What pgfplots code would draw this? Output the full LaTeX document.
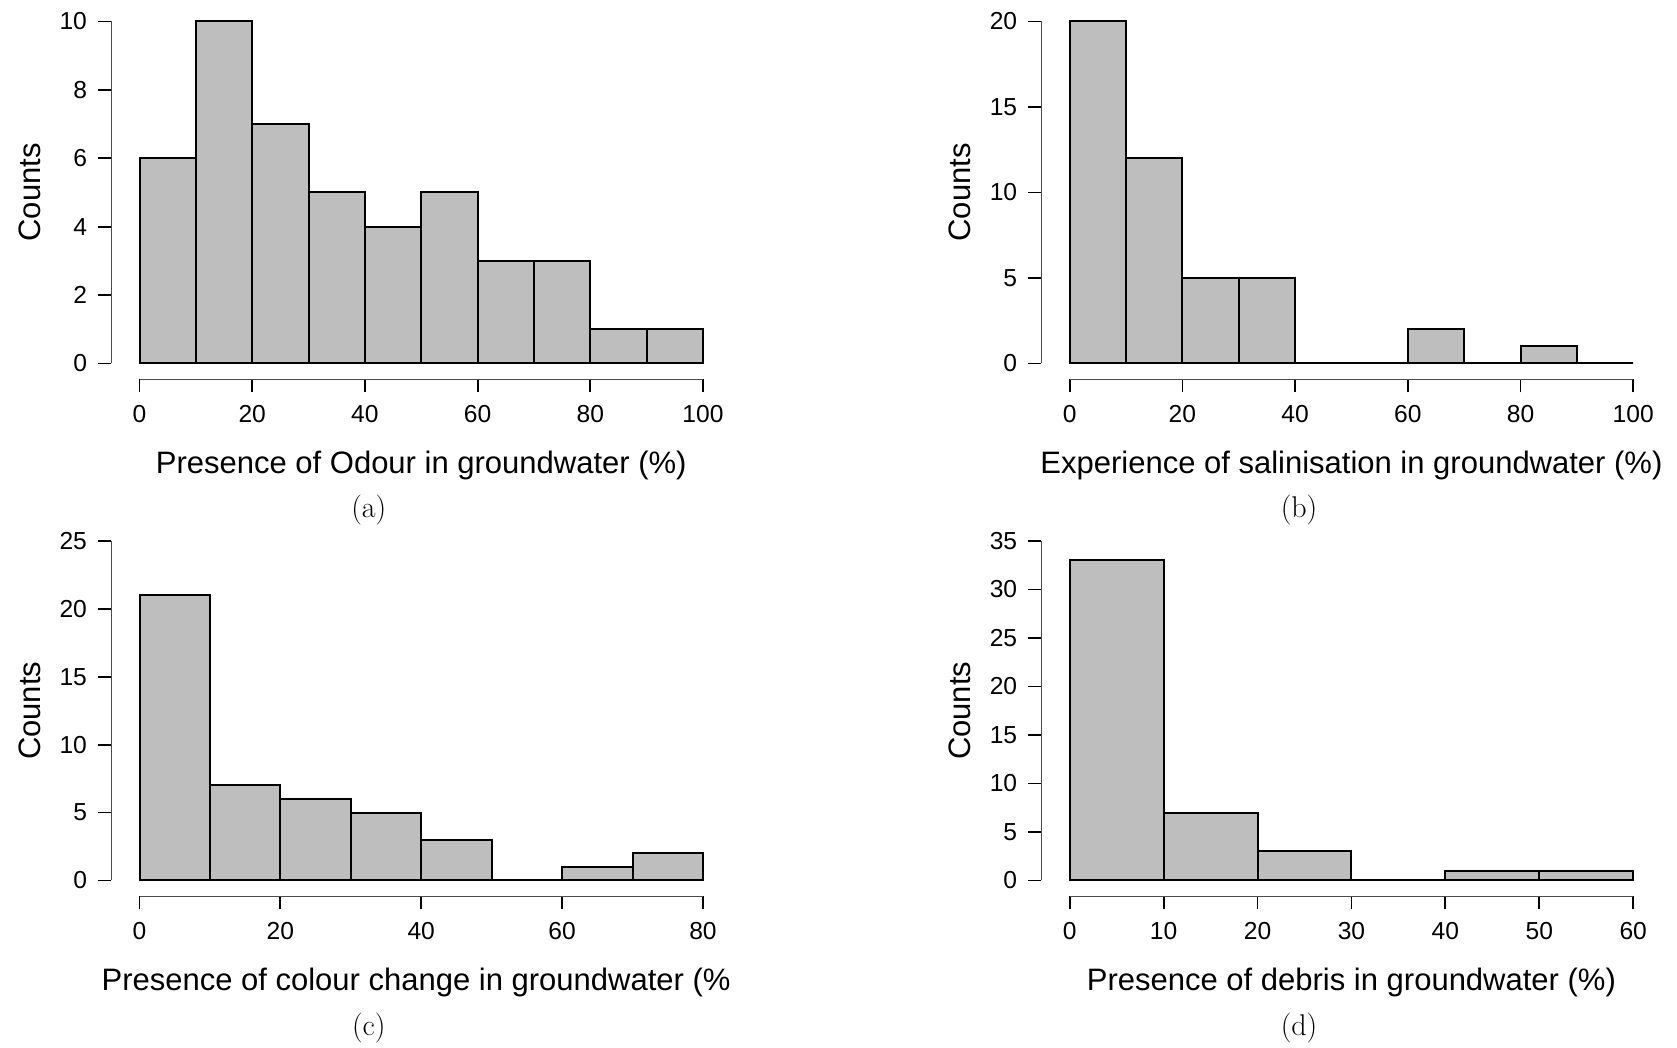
\documentclass[border=0pt]{standalone}
\usepackage{pgfplots}
\pgfplotsset{compat=1.18}
\usepackage{fontspec}
\newfontfamily\lsans{Liberation Sans}
\definecolor{bargray}{RGB}{190,190,190}
\tikzset{subcap/.style={font=\fontsize{15}{17}\selectfont}}
\pgfplotsset{
  rhist/.style={
    scale only axis,
    width=281.75pt,
    clip=false,
    axis x line*=bottom,
    axis y line*=left,
    axis x line shift=8pt,
    axis y line shift=14.25pt,
    axis line style={line width=0.5pt, black!70},
    tick align=outside,
    major tick length=6.5pt,
    tick style={line width=0.9pt, black},
    minor tick num=0,
    tick label style={font=\fontsize{12.3}{14}\selectfont\lsans},
    xticklabel style={yshift=-2.7pt},
    yticklabel style={xshift=-2pt},
    /pgf/number format/assume math mode=true,
    label style={font=\fontsize{15.5}{18}\selectfont\lsans},
    ylabel style={at={(axis description cs:-0.195,0.5)}, anchor=center},
    ylabel={Counts},
    ymin=0,
    xmin=0,
  },
  histbar/.style={ybar interval, fill=bargray, draw=black, line width=1pt},
}
\begin{document}
\begin{tikzpicture}
\useasboundingbox (0,0) rectangle (838.5pt,524pt);
% (a)
\begin{axis}[rhist, at={(69.75pt,342.25pt)}, anchor=south west, height=171pt,
  xmax=100, ymax=10, xtick={0,20,...,100}, ytick={0,2,...,10},
  xlabel={Presence of Odour in groundwater (\%)},
  xlabel style={at={(axis description cs:0.5,-0.297)}, anchor=center}]
\addplot[histbar] coordinates {(0,6) (10,10) (20,7) (30,5) (40,4) (50,5) (60,3) (70,3) (80,1) (90,1) (100,1)};
\node[subcap] at (axis description cs:0.407,-0.428) {(a)};
\end{axis}
% (b)
\begin{axis}[rhist, at={(534.85pt,342.25pt)}, anchor=south west, height=171pt,
  xmax=100, ymax=20, xtick={0,20,...,100}, ytick={0,5,...,20},
  xlabel={Experience of salinisation in groundwater (\%)},
  xlabel style={at={(axis description cs:0.5,-0.297)}, anchor=center}]
\addplot[histbar] coordinates {(0,20) (10,12) (20,5) (30,5) (40,0) (50,0) (60,2) (70,0) (80,1) (90,0) (100,0)};
\node[subcap] at (axis description cs:0.407,-0.428) {(b)};
\end{axis}
% (c)
\begin{axis}[rhist, at={(69.75pt,83.75pt)}, anchor=south west, height=169.75pt,
  xmax=80, ymax=25, xtick={0,20,...,80}, ytick={0,5,...,25},
  xlabel={Presence of colour change in groundwater (\%\phantom{)}},
  xlabel style={at={(axis description cs:0.5,-0.3)}, anchor=center}]
\addplot[histbar] coordinates {(0,21) (10,7) (20,6) (30,5) (40,3) (50,0) (60,1) (70,2) (80,2)};
\node[subcap] at (axis description cs:0.407,-0.434) {(c)};
\end{axis}
% (d)
\begin{axis}[rhist, at={(534.85pt,83.75pt)}, anchor=south west, height=169.75pt,
  xmax=60, ymax=35, xtick={0,10,...,60}, ytick={0,5,...,35},
  xlabel={Presence of debris in groundwater (\%)},
  xlabel style={at={(axis description cs:0.5,-0.3)}, anchor=center}]
\addplot[histbar] coordinates {(0,33) (10,7) (20,3) (30,0) (40,1) (50,1) (60,1)};
\node[subcap] at (axis description cs:0.407,-0.434) {(d)};
\end{axis}
\end{tikzpicture}
\end{document}
